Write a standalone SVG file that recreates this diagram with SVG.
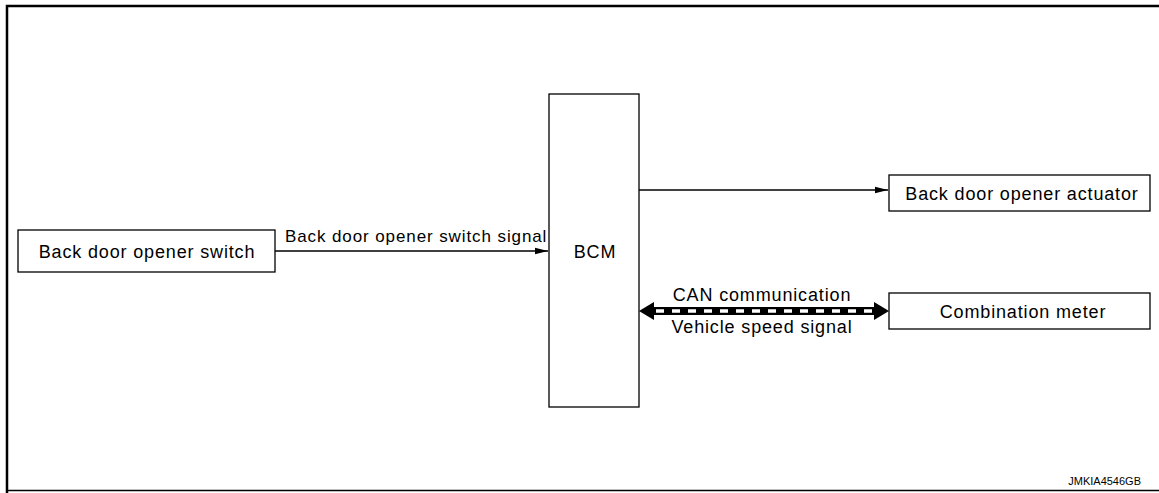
<svg xmlns="http://www.w3.org/2000/svg" width="1159" height="493" viewBox="0 0 1159 493">
<defs>
<style>
text{font-family:"Liberation Sans",Arial,sans-serif;font-size:18px;letter-spacing:0.85px;fill:#000}
.lbl{font-size:17px;letter-spacing:0.9px}
.id{font-size:11px;letter-spacing:0}
.box{fill:#fff;stroke:#000;stroke-width:1.3}
.ln{stroke:#000;stroke-width:1.3;fill:none}
</style>
<marker id="ah" markerWidth="14" markerHeight="8" refX="13" refY="4" orient="auto" markerUnits="userSpaceOnUse">
<path d="M0,0.8 L13,4 L0,7.2 Z" fill="#000"/>
</marker>
</defs>
<rect width="1159" height="493" fill="#fff"/>
<path d="M7,493 V6 H1159" fill="none" stroke="#000" stroke-width="2.5"/>
<line x1="7" y1="490.5" x2="1159" y2="490.5" stroke="#000" stroke-width="1.5"/>
<g id="connectors">
<line class="ln" x1="275" y1="251" x2="548" y2="251" marker-end="url(#ah)"/>
<line class="ln" x1="639" y1="190" x2="888" y2="190" marker-end="url(#ah)"/>
<g id="can">
<line x1="650" y1="311" x2="878" y2="311" stroke="#000" stroke-width="8"/>
<line x1="652" y1="311" x2="876" y2="311" stroke="#fff" stroke-width="3.5" stroke-dasharray="8 8" stroke-dashoffset="-4"/>
<polygon points="639,311 654,302 654,320" fill="#000"/>
<polygon points="889,311 874,302 874,320" fill="#000"/>
</g>
<text class="lbl" x="285" y="242">Back door opener switch signal</text>
<text x="762" y="301" text-anchor="middle">CAN communication</text>
<text x="762" y="333" text-anchor="middle">Vehicle speed signal</text>
</g>
<g id="switch">
<rect class="box" x="18" y="230" width="257" height="42"/>
<text x="147" y="258" text-anchor="middle">Back door opener switch</text>
</g>
<g id="bcm">
<rect class="box" x="549" y="94" width="90" height="313"/>
<text x="595" y="258" text-anchor="middle">BCM</text>
</g>
<g id="actuator">
<rect class="box" x="889" y="175" width="261" height="36"/>
<text x="1022" y="200" text-anchor="middle">Back door opener actuator</text>
</g>
<g id="meter">
<rect class="box" x="889" y="293" width="261" height="36"/>
<text x="1023" y="318" text-anchor="middle">Combination meter</text>
</g>
<text class="id" x="1141" y="485" text-anchor="end">JMKIA4546GB</text>
</svg>
